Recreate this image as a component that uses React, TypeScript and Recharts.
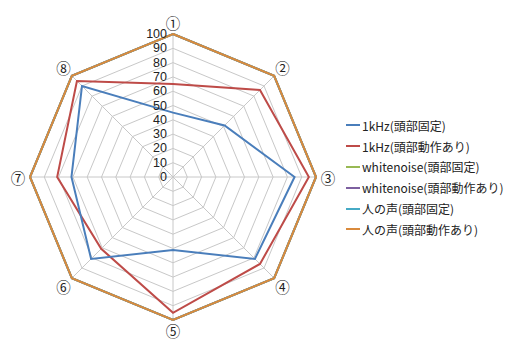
import React from 'react';
import { RadarChart, Radar, PolarGrid, PolarAngleAxis, PolarRadiusAxis, Legend } from 'recharts';

const categories = ['①', '②', '③', '④', '⑤', '⑥', '⑦', '⑧'];
const tone1kFixed = [45, 51, 85, 81, 51, 81, 71, 90];
const tone1kMoving = [65, 86, 95, 86, 95, 71, 81, 95];
const noiseFixed = [100, 100, 100, 100, 100, 100, 100, 100];
const noiseMoving = [100, 100, 100, 100, 100, 100, 100, 100];
const voiceFixed = [100, 100, 100, 100, 100, 100, 100, 100];
const voiceMoving = [100, 100, 100, 100, 100, 100, 100, 100];
const radiusTicks = [0, 10, 20, 30, 40, 50, 60, 70, 80, 90, 100];

const seriesNames = [
  '1kHz(頭部固定)',
  '1kHz(頭部動作あり)',
  'whitenoise(頭部固定)',
  'whitenoise(頭部動作あり)',
  '人の声(頭部固定)',
  '人の声(頭部動作あり)',
];
const seriesValues = [tone1kFixed, tone1kMoving, noiseFixed, noiseMoving, voiceFixed, voiceMoving];
const seriesColors = ['#4A7EBB', '#BE4B48', '#98B954', '#7D60A0', '#46AAC5', '#D98A3C'];

const data = categories.map((c, i) => {
  const row: any = { cat: c };
  seriesValues.forEach((vals, s) => {
    row['s' + s] = vals[i];
  });
  return row;
});

const CX = 173;
const CY = 177;
const R = 143;
const FONT = '"Noto Sans CJK JP", "Noto Sans", sans-serif';
const NUMFONT = '"Liberation Sans", Arial, sans-serif';

const AngleTick = (props: any) => {
  const { x, y, payload } = props;
  const dx = x - CX;
  const dy = y - CY;
  const d = Math.sqrt(dx * dx + dy * dy) || 1;
  const L = 155;
  const tx = CX + (dx / d) * L;
  const ty = Math.min(CY + (dy / d) * L, 330);
  return (
    <text x={tx} y={ty} textAnchor="middle" dominantBaseline="central" fontSize={14.5} fill="#222" fontFamily={FONT}>
      {payload.value}
    </text>
  );
};

const RadiusTick = (props: any) => {
  const { x, y, payload } = props;
  return (
    <text x={x - 6} y={y} textAnchor="end" dominantBaseline="central" fontSize={12.5} fill="#222" fontFamily={NUMFONT}>
      {payload.value}
    </text>
  );
};

const renderLegend = () => (
  <div style={{ fontFamily: FONT, fontSize: 12, color: '#222' }}>
    {seriesNames.map((n, i) => (
      <div key={n} style={{ display: 'flex', alignItems: 'center', height: 20.8 }}>
        <svg width={14} height={4} style={{ marginRight: 2 }}>
          <line x1={0} y1={2} x2={14} y2={2} stroke={seriesColors[i]} strokeWidth={2} />
        </svg>
        <span>{n}</span>
      </div>
    ))}
  </div>
);

export default function App() {
  return (
    <div style={{ position: 'absolute', left: 0, top: 0, width: 509, height: 341, background: '#fff' }}>
      <RadarChart
        width={509}
        height={341}
        data={data}
        cx={CX}
        cy={CY}
        outerRadius={R}
        startAngle={90}
        endAngle={-270}
      >
        <PolarGrid gridType="polygon" stroke="#c8c8c8" strokeWidth={1} polarRadius={radiusTicks.map((t) => (t / 100) * R)} />
        <PolarAngleAxis dataKey="cat" tick={<AngleTick />} tickLine={false} axisLine={false} />
        <PolarRadiusAxis
          angle={90}
          domain={[0, 100]}
          ticks={radiusTicks as any}
          tickCount={11}
          tick={<RadiusTick />}
          axisLine={false}
          tickLine={false}
        />
        {[2, 3, 4, 5, 1, 0].map((s) => (
          <Radar
            key={s}
            name={seriesNames[s]}
            dataKey={'s' + s}
            stroke={seriesColors[s]}
            strokeWidth={2}
            fill="none"
            fillOpacity={0}
            dot={false}
            isAnimationActive={false}
          />
        ))}
        <Legend
          layout="vertical"
          verticalAlign="top"
          align="right"
          content={renderLegend}
          wrapperStyle={{ left: 346, top: 115, width: 163 }}
        />
      </RadarChart>
    </div>
  );
}
